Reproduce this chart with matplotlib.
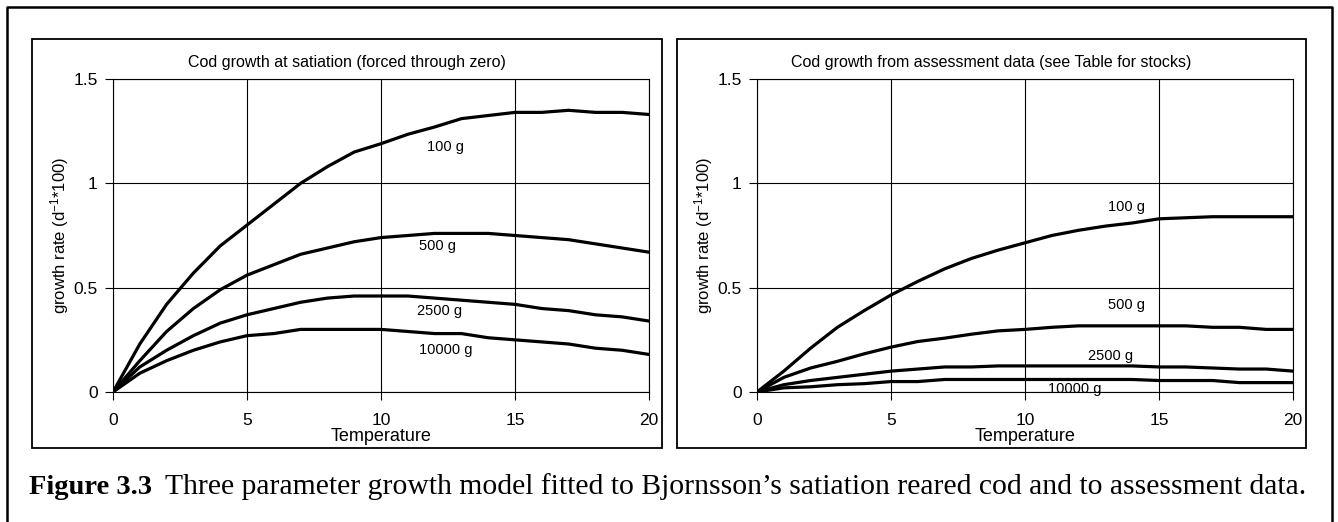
import matplotlib
matplotlib.use("Agg")
import matplotlib.pyplot as plt
from matplotlib.lines import Line2D
from matplotlib.patches import Rectangle

plt.rcParams['font.family'] = ['Liberation Sans', 'DejaVu Sans']
plt.rcParams['mathtext.default'] = 'regular'

temp = list(range(0, 21))

# satiation (Bjornsson)
sat_100 = [0, 0.23, 0.42, 0.57, 0.70, 0.80, 0.90, 1.00, 1.08, 1.15, 1.19, 1.235, 1.27, 1.31,
           1.325, 1.34, 1.34, 1.35, 1.34, 1.34, 1.33]
sat_500 = [0, 0.15, 0.29, 0.40, 0.49, 0.56, 0.61, 0.66, 0.69, 0.72, 0.74, 0.75, 0.76, 0.76,
           0.76, 0.75, 0.74, 0.73, 0.71, 0.69, 0.67]
sat_2500 = [0, 0.12, 0.20, 0.27, 0.33, 0.37, 0.40, 0.43, 0.45, 0.46, 0.46, 0.46, 0.45, 0.44,
            0.43, 0.42, 0.40, 0.39, 0.37, 0.36, 0.34]
sat_10000 = [0, 0.09, 0.15, 0.20, 0.24, 0.27, 0.28, 0.30, 0.30, 0.30, 0.30, 0.29, 0.28, 0.28,
             0.26, 0.25, 0.24, 0.23, 0.21, 0.20, 0.18]

# assessment data
ass_100 = [0, 0.10, 0.21, 0.31, 0.39, 0.465, 0.53, 0.59, 0.64, 0.68, 0.715, 0.75, 0.775, 0.795,
           0.81, 0.83, 0.835, 0.84, 0.84, 0.84, 0.84]
ass_500 = [0, 0.07, 0.115, 0.147, 0.183, 0.215, 0.242, 0.258, 0.277, 0.293, 0.30, 0.31, 0.317,
           0.317, 0.317, 0.317, 0.317, 0.31, 0.31, 0.30, 0.30]
ass_2500 = [0, 0.035, 0.055, 0.07, 0.085, 0.10, 0.11, 0.12, 0.12, 0.125, 0.125, 0.125, 0.125,
            0.125, 0.125, 0.12, 0.12, 0.115, 0.11, 0.11, 0.10]
ass_10000 = [0, 0.02, 0.025, 0.035, 0.04, 0.05, 0.05, 0.06, 0.06, 0.06, 0.06, 0.06, 0.06, 0.06,
             0.06, 0.055, 0.055, 0.055, 0.045, 0.045, 0.045]

weights = ['100 g', '500 g', '2500 g', '10000 g']
sat_lab_xy = [(12.4, 1.175), (12.1, 0.70), (12.2, 0.386), (12.4, 0.20)]
ass_lab_xy = [(13.8, 0.885), (13.8, 0.418), (13.2, 0.174), (11.85, 0.014)]

titles = ['Cod growth at satiation (forced through zero)',
          'Cod growth from assessment data (see Table for stocks)']
W, H = 1338, 522

fig = plt.figure(figsize=(W / 100, H / 100), dpi=100)

# outer frame (no bottom edge)
fig.add_artist(Line2D([7 / W, 7 / W, 1332 / W, 1332 / W], [0, 1 - 7 / H, 1 - 7 / H, 0],
                      transform=fig.transFigure, color='black', lw=1.8))

panels = [(32, 662, 113, 649), (677, 1306, 757, 1293)]
series = [[sat_100, sat_500, sat_2500, sat_10000], [ass_100, ass_500, ass_2500, ass_10000]]
labpos = [sat_lab_xy, ass_lab_xy]

for i in range(2):
    bx0, bx1, px0, px1 = panels[i]
    fig.add_artist(Rectangle((bx0 / W, 1 - 448 / H), (bx1 - bx0) / W, 409 / H,
                             transform=fig.transFigure, fill=False, ec='black', lw=1.3))
    fig.text((bx0 + bx1) / 2 / W, 1 - 62 / H, titles[i], ha='center', va='center',
             fontsize=11.5)

    ax = fig.add_axes([px0 / W, 1 - 392 / H, (px1 - px0) / W, 313 / H])
    for ys in series[i]:
        ax.plot(temp, ys, color='black', lw=2.3, solid_joinstyle='round')
    for name, (lx, ly) in zip(weights, labpos[i]):
        ax.text(lx, ly, name, ha='center', va='center', fontsize=10.5)

    ax.set_xlim(0, 20)
    ax.set_ylim(0, 1.5)
    ax.set_xticks([0, 5, 10, 15, 20])
    ax.set_yticks([0, 0.5, 1, 1.5])
    ax.set_yticklabels(['0', '0.5', '1', '1.5'])
    ax.grid(True, color='black', lw=0.8)
    ax.tick_params(axis='both', direction='out', length=6, width=0.8, labelsize=12.5,
                   color='black')
    ax.tick_params(axis='x', pad=9)
    ax.tick_params(axis='y', pad=5)
    for s in ax.spines.values():
        s.set_linewidth(0.8)
    ax.set_ylabel('growth rate (d$^{-1}$*100)', fontsize=12)
    ax.yaxis.set_label_coords(-0.1, 0.5)
    ax.yaxis.label.set_va('center')
    ax.set_xlabel('Temperature', fontsize=13)
    ax.xaxis.set_label_coords(0.5, -0.143)
    ax.xaxis.label.set_va('center')

# caption
cy = 1 - 487 / H
cap = fig.text(29 / W, cy, 'Figure 3.3', ha='left', va='center', fontsize=20.5,
               family='Liberation Serif', weight='bold')
fig.canvas.draw()
bb = cap.get_window_extent()
fig.text((bb.x1 + 13) / W, cy,
         'Three parameter growth model fitted to Bjornsson\u2019s satiation reared cod and to assessment data.',
         ha='left', va='center', fontsize=21.3, family='Liberation Serif')

fig.savefig('out.png', dpi=100)
